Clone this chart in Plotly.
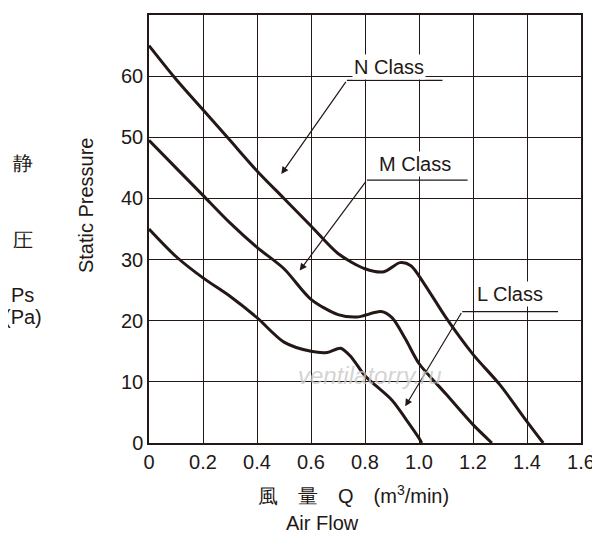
import plotly.graph_objects as go

# fan curves: air flow (m3/min) vs static pressure (Pa)
n_x = [0, 0.1, 0.2, 0.3, 0.4, 0.5, 0.6, 0.7, 0.8, 0.87, 0.93, 0.97, 1.02, 1.1, 1.2, 1.3, 1.4, 1.46]
n_y = [65, 59.5, 54.5, 49.5, 44.5, 40, 35.5, 31, 28.5, 28, 29.5, 29, 26, 20.5, 14.5, 9.5, 3.5, 0]
m_x = [0, 0.1, 0.2, 0.3, 0.4, 0.5, 0.6, 0.7, 0.77, 0.86, 0.9, 0.95, 1.0, 1.1, 1.2, 1.27]
m_y = [49.5, 45, 40.5, 36, 32, 28.5, 23.5, 21, 20.6, 21.5, 20.5, 17, 13, 8, 3, 0]
l_x = [0, 0.1, 0.2, 0.3, 0.4, 0.5, 0.6, 0.66, 0.71, 0.75, 0.8, 0.9, 0.95, 1.0, 1.01]
l_y = [35, 30.5, 27, 24, 20.5, 16.5, 15, 14.8, 15.5, 14, 11, 7, 4, 0.8, 0]
x_ticks = [0, 0.2, 0.4, 0.6, 0.8, 1.0, 1.2, 1.4, 1.6]
x_tick_text = ["0", "0.2", "0.4", "0.6", "0.8", "1.0", "1.2", "1.4", "1.6"]
y_ticks = [0, 10, 20, 30, 40, 50, 60, 70]

ink = "#231815"
font = "Liberation Sans, Arial, sans-serif"

L, T, W, H = 141, 5, 432, 430


def px(xp):
    return (xp - 148) / W


def py(yp):
    return (444 - yp) / H


fig = go.Figure()
for xs, ys in [(n_x, n_y), (m_x, m_y), (l_x, l_y)]:
    fig.add_trace(go.Scatter(x=xs, y=ys, mode="lines",
                             line=dict(color=ink, width=3, shape="spline", smoothing=0.8),
                             hoverinfo="skip", showlegend=False))

# class labels with leader lines
labels = [
    ("N Class", 0.89, 61.5, 0.49, 44, 0.733, 59.3, 1.087),
    ("M Class", 0.986, 45.7, 0.558, 28.2, 0.807, 43, 1.18),
    ("L Class", 1.336, 24.3, 0.949, 6, 1.16, 21.5, 1.515),
]
for text, tx, ty, hx, hy, cx, cy, ex in labels:
    fig.add_shape(type="line", x0=cx, y0=cy, x1=ex, y1=cy, line=dict(color=ink, width=1.2))
    fig.add_annotation(x=hx, y=hy, ax=cx, ay=cy, axref="x", ayref="y", text="",
                       showarrow=True, arrowhead=2, arrowsize=1.2, arrowwidth=1.2, arrowcolor=ink)
    fig.add_annotation(x=tx, y=ty, text=text, showarrow=False, bgcolor="white",
                       font=dict(size=20, color=ink, family=font))

# axis titles
side = [("静", 163), ("圧", 240), ("Ps", 295), ("(Pa)", 330)]
for t, yp in side:
    fig.add_annotation(x=px(22), y=py(yp), xref="paper", yref="paper", xanchor="center",
                       text=t, showarrow=False, font=dict(size=20, color=ink, family=font))
fig.add_annotation(x=px(72), y=py(205), xref="paper", yref="paper",
                   text="Static Pressure", textangle=-90, showarrow=False,
                   font=dict(size=20, color=ink, family=font))
fig.add_annotation(x=px(352), y=py(510), xref="paper", yref="paper",
                   text="風　量　Q　(m<sup>3</sup>/min)", showarrow=False,
                   font=dict(size=20, color=ink, family=font))
fig.add_annotation(x=px(283), y=py(537), xref="paper", yref="paper",
                   text="Air Flow", showarrow=False, font=dict(size=20, color=ink, family=font))
fig.add_annotation(x=0.82, y=11, text="<i>ventilatorry.ru</i>", showarrow=False,
                   font=dict(size=24, color="rgba(200,200,200,0.8)", family=font))

fig.update_xaxes(range=[0, 1.6], tickvals=x_ticks, ticktext=x_tick_text, showgrid=True,
                 gridcolor=ink, gridwidth=1, showline=True, linecolor=ink, linewidth=1.5,
                 mirror=True, zeroline=False, ticks="", tickfont=dict(size=20, color=ink, family=font))
fig.update_yaxes(range=[0, 70], tickvals=y_ticks, showgrid=True, gridcolor=ink, gridwidth=1,
                 showline=True, linecolor=ink, linewidth=1.5, mirror=True, zeroline=False,
                 ticks="", tickfont=dict(size=20, color=ink, family=font))
fig.update_layout(width=600, height=550, margin=dict(l=L, r=600 - L - W, t=T, b=550 - T - H),
                  plot_bgcolor="white", paper_bgcolor="white")
fig.write_html("out.html")
